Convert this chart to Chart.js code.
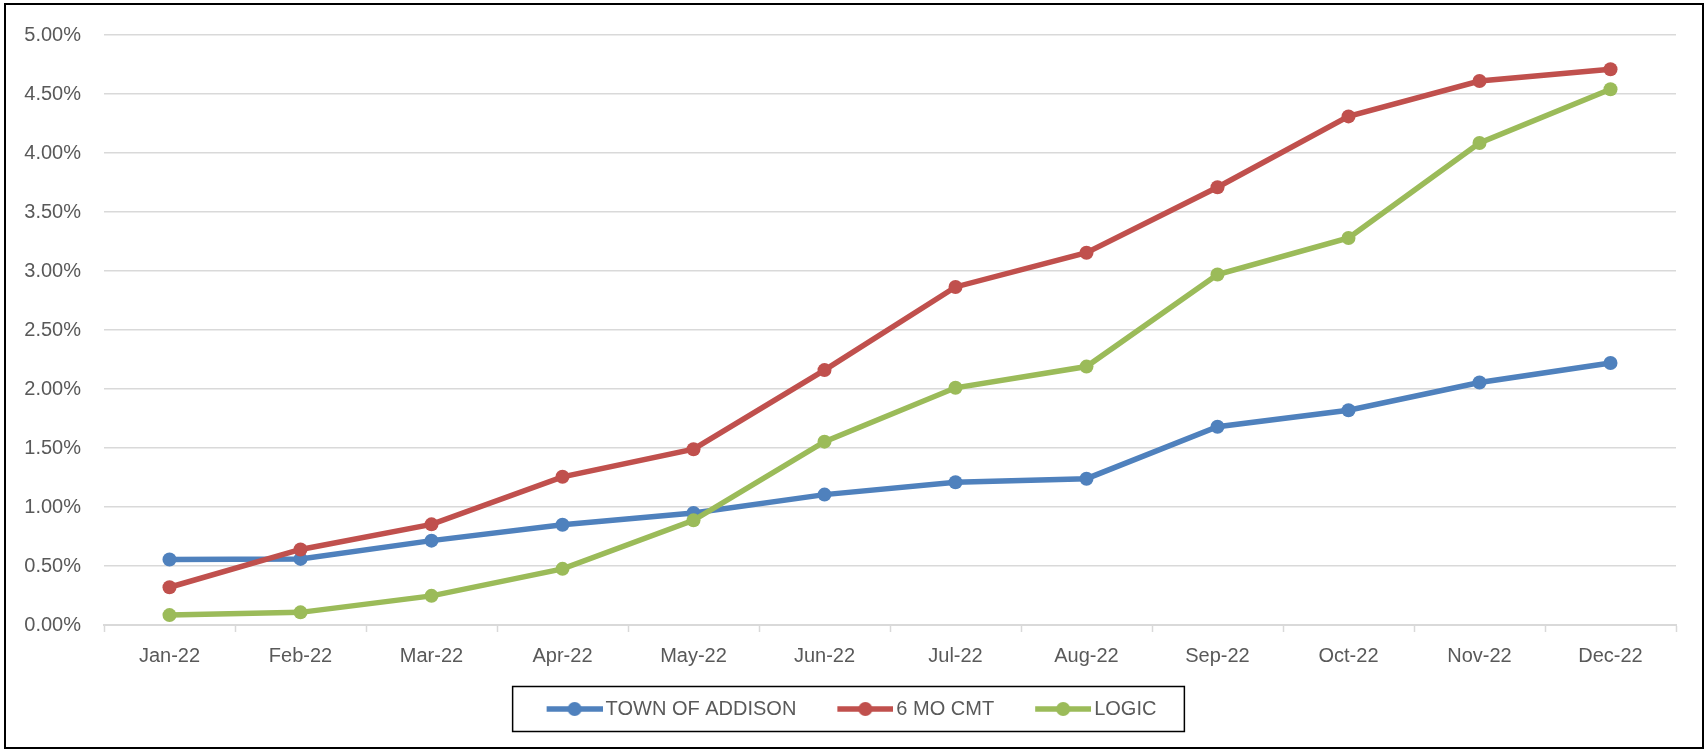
<!DOCTYPE html>
<html>
<head>
<meta charset="utf-8">
<script src="https://cdn.jsdelivr.net/npm/chart.js@4.4.0/dist/chart.umd.min.js"></script>
<style>
    html, body { margin: 0; padding: 0; background: #fff; }
    #wrap { position: relative; width: 1706px; height: 751px; }
    #frame { position: absolute; left: 4px; top: 3px; width: 1700px; height: 746px; border: 2px solid #000; box-sizing: border-box; pointer-events: none; }
</style>
</head>
<body>
<div id="wrap">
    <canvas id="myChart" width="1706" height="751"></canvas>
    <div id="frame"></div>
</div>
<script>
var MONTHS = ['Jan-22', 'Feb-22', 'Mar-22', 'Apr-22', 'May-22', 'Jun-22', 'Jul-22', 'Aug-22', 'Sep-22', 'Oct-22', 'Nov-22', 'Dec-22'];
var SERIES_NAMES = ['TOWN OF ADDISON', '6 MO CMT', 'LOGIC'];
var SERIES_COLORS = ['#4f81bd', '#c0504d', '#9bbb59'];
var TOWN_OF_ADDISON = [0.555, 0.56, 0.715, 0.85, 0.95, 1.105, 1.21, 1.24, 1.68, 1.82, 2.055, 2.22];
var MO6_CMT = [0.32, 0.64, 0.853, 1.256, 1.49, 2.16, 2.865, 3.155, 3.71, 4.31, 4.61, 4.71];
var LOGIC = [0.084, 0.107, 0.247, 0.476, 0.887, 1.554, 2.01, 2.19, 2.97, 3.28, 4.085, 4.54];
var Y_TICKS = [0, 0.5, 1, 1.5, 2, 2.5, 3, 3.5, 4, 4.5, 5];

(function () {
    var TEXT_COLOR = '#595959',
        GRID_COLOR = '#d9d9d9',
        FONT = { family: '"Liberation Sans", Arial, sans-serif', size: 20 },
        LEAD = 20; // blank space in front of each legend swatch

    // little "line with a dot" swatch like excel legends
    function legendSwatch(color) {
        var c = document.createElement('canvas'),
            ctx;
        c.width = LEAD + 70;
        c.height = 16;
        ctx = c.getContext('2d');
        ctx.strokeStyle = color;
        ctx.lineWidth = 5.5;
        ctx.beginPath();
        ctx.moveTo(LEAD + 14, 8);
        ctx.lineTo(LEAD + 70, 8);
        ctx.stroke();
        ctx.fillStyle = color;
        ctx.beginPath();
        ctx.arc(LEAD + 42, 8, 7, 0, Math.PI * 2);
        ctx.fill();
        return c;
    }

    var legendBox = {
        id: 'legendBox',
        afterDraw: function (chart) {
            var boxes = chart.legend.legendHitBoxes,
                ctx = chart.ctx,
                left, right, cy;
            if (!boxes || !boxes.length) return;
            left = Math.min.apply(null, boxes.map(function (b) { return b.left; })) + LEAD + 7 - 34;
            right = Math.max.apply(null, boxes.map(function (b) { return b.left + b.width; })) + 28;
            cy = boxes[0].top + boxes[0].height / 2;
            ctx.save();
            ctx.strokeStyle = '#000';
            ctx.lineWidth = 1.5;
            ctx.strokeRect(left, cy - 22.5, right - left, 45);
            ctx.restore();
        }
    };

    var allValues = [TOWN_OF_ADDISON, MO6_CMT, LOGIC];

    new Chart(document.getElementById('myChart').getContext('2d'), {
        type: 'line',
        data: {
            labels: MONTHS,
            datasets: allValues.map(function (values, i) {
                return {
                    label: SERIES_NAMES[i],
                    data: values,
                    borderColor: SERIES_COLORS[i],
                    backgroundColor: SERIES_COLORS[i],
                    pointBackgroundColor: SERIES_COLORS[i],
                    borderWidth: 5.5,
                    pointRadius: 7,
                    pointBorderWidth: 0,
                    tension: 0,
                    fill: false,
                    order: 3 - i
                };
            })
        },
        options: {
            responsive: false,
            animation: false,
            devicePixelRatio: 1,
            layout: { padding: { top: 33, right: 30, bottom: 22, left: 0 } },
            plugins: {
                tooltip: { enabled: false },
                legend: {
                    position: 'bottom',
                    labels: {
                        usePointStyle: true,
                        pointStyleWidth: LEAD + 56,
                        padding: 14,
                        color: TEXT_COLOR,
                        font: FONT,
                        generateLabels: function (chart) {
                            return chart.data.datasets.map(function (ds, i) {
                                return {
                                    text: ds.label,
                                    fontColor: TEXT_COLOR,
                                    pointStyle: legendSwatch(SERIES_COLORS[i]),
                                    fillStyle: SERIES_COLORS[i],
                                    strokeStyle: SERIES_COLORS[i],
                                    lineWidth: 0,
                                    datasetIndex: i
                                };
                            });
                        }
                    }
                }
            },
            scales: {
                x: {
                    offset: true,
                    afterFit: function (scale) { scale.height = 60; },
                    grid: {
                        offset: true,
                        drawOnChartArea: false,
                        drawTicks: true,
                        tickLength: 7,
                        tickColor: GRID_COLOR,
                        tickWidth: 1.5
                    },
                    border: { display: true, color: GRID_COLOR, width: 2 },
                    ticks: { color: TEXT_COLOR, font: FONT, padding: 12, maxRotation: 0 }
                },
                y: {
                    min: 0,
                    max: 5,
                    afterFit: function (scale) { scale.width = 104; },
                    afterBuildTicks: function (scale) {
                        scale.ticks = Y_TICKS.map(function (v) { return { value: v }; });
                    },
                    grid: { color: GRID_COLOR, lineWidth: 1.5, drawTicks: false },
                    border: { display: false },
                    ticks: {
                        color: TEXT_COLOR,
                        font: FONT,
                        padding: 23,
                        callback: function (v) { return v.toFixed(2) + '%'; }
                    }
                }
            }
        },
        plugins: [legendBox]
    });
})();
</script>
</body>
</html>
